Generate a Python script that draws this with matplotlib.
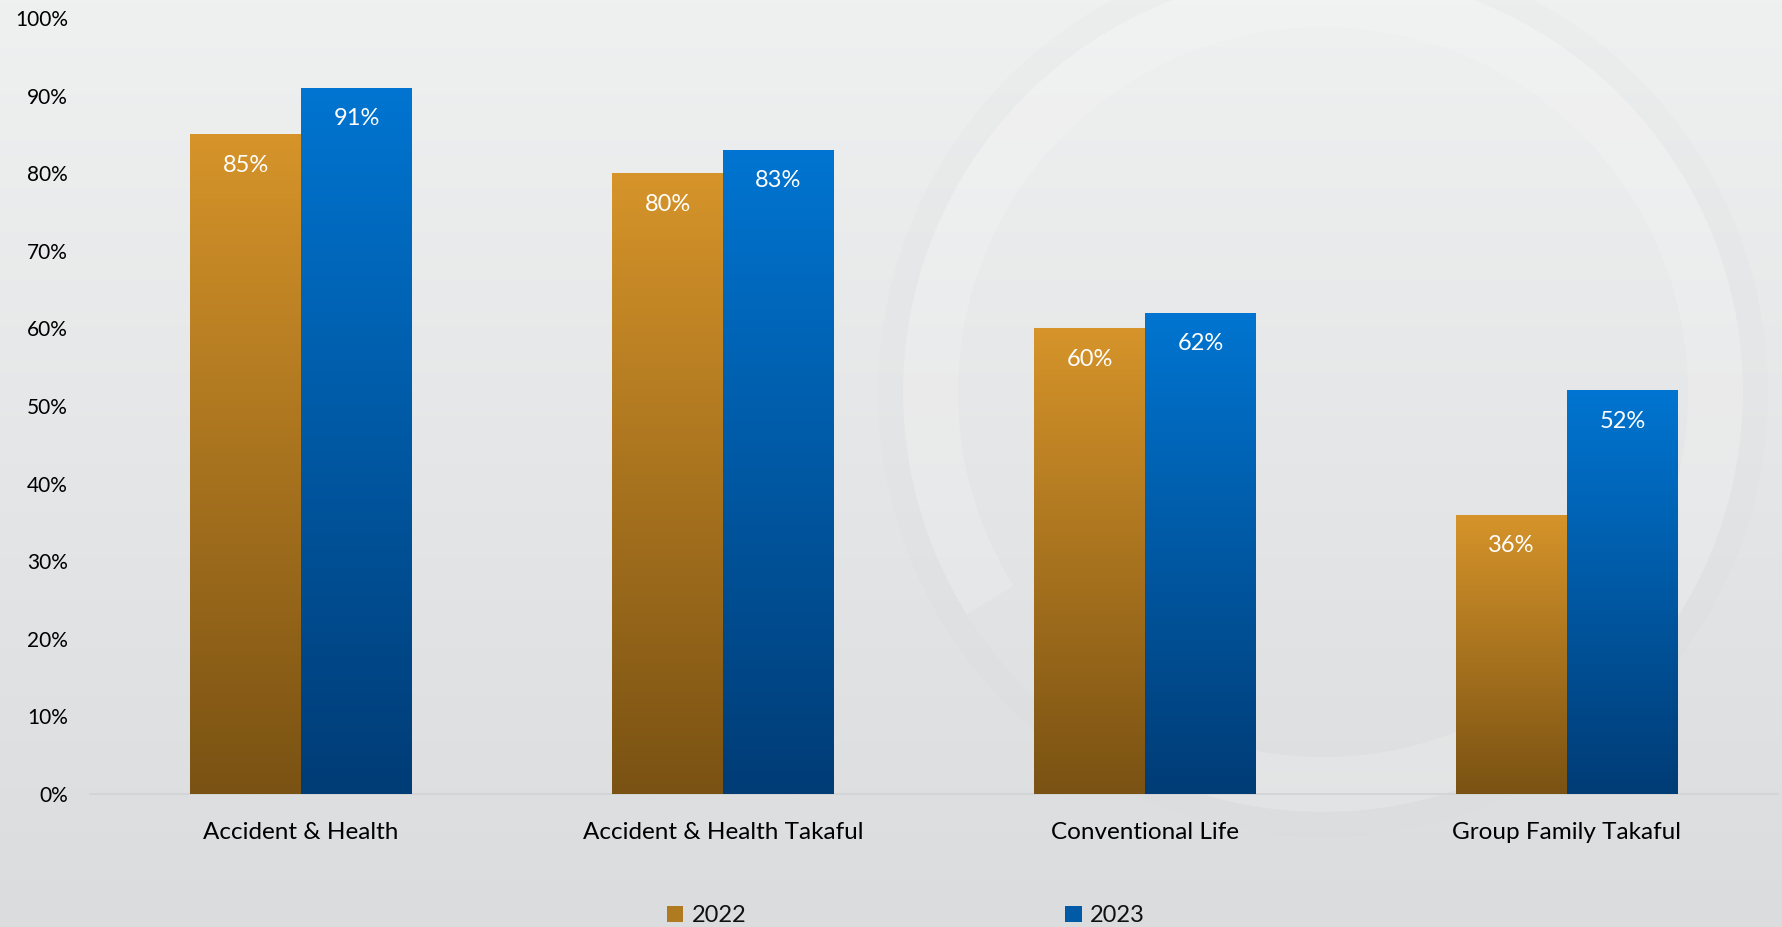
import numpy as np
import matplotlib
matplotlib.use("Agg")
import matplotlib.pyplot as plt
from matplotlib.patches import Wedge, Patch
from matplotlib.colors import LinearSegmentedColormap

categories = ["Accident & Health", "Accident & Health Takaful",
              "Conventional Life", "Group Family Takaful"]
years = ["2022", "2023"]
vals_2022 = [85, 80, 60, 36]
vals_2023 = [91, 83, 62, 52]
yticks = [0, 10, 20, 30, 40, 50, 60, 70, 80, 90, 100]

ORANGE_TOP, ORANGE_BOT = "#d6942a", "#7a5213"
BLUE_TOP, BLUE_BOT = "#0075d1", "#003c76"
BG_TOP, BG_BOT = "#eff0f0", "#dbdcde"

plt.rcParams.update({
    "font.family": ["Lato", "DejaVu Sans"],
    "text.color": "#111111",
})

W, H = 1783, 927
fig = plt.figure(figsize=(W / 100, H / 100), dpi=100)

# background: vertical gradient + faint ring (y axis flipped, so angles mirror)
bg = fig.add_axes([0, 0, 1, 1], zorder=-10)
bg.set_xlim(0, W)
bg.set_ylim(H, 0)
bg.axis("off")
bg_cmap = LinearSegmentedColormap.from_list("bg", [BG_TOP, BG_BOT])
bg.imshow(np.linspace(0, 1, 256).reshape(-1, 1), cmap=bg_cmap,
          extent=[0, W, H, 0], aspect="auto")
bg.add_patch(Wedge((1323, 392), 420, 148, 118, width=55,
                   facecolor="white", edgecolor="none", alpha=0.16))
bg.add_patch(Wedge((1323, 392), 445, 0, 360, width=25,
                   facecolor="#d4d5d7", edgecolor="none", alpha=0.10))

ax = fig.add_axes([90 / W, 1 - 794 / H, (1778 - 90) / W, (794 - 18) / H])
ax.patch.set_alpha(0)

x = np.arange(len(categories))
w = 0.263

def grad_bars(xpos, vals, top, bot):
    cmap = LinearSegmentedColormap.from_list("g", [bot, top])
    bars = ax.bar(xpos, vals, w, color="none", edgecolor="none", zorder=3)
    for b in bars:
        x0, y0 = b.get_x(), b.get_y()
        im = ax.imshow(np.linspace(0, 1, 256).reshape(-1, 1), cmap=cmap,
                       origin="lower", aspect="auto", zorder=3,
                       extent=[x0, x0 + b.get_width(), y0, y0 + b.get_height()])
        im.set_clip_path(b)
    for xi, v in zip(xpos, vals):
        ax.text(xi, v - 4, f"{v}%", ha="center", va="center",
                color="white", fontsize=17, zorder=5)

grad_bars(x - w / 2, vals_2022, ORANGE_TOP, ORANGE_BOT)
grad_bars(x + w / 2, vals_2023, BLUE_TOP, BLUE_BOT)

ax.set_xlim(-0.5, 3.5)
ax.set_ylim(0, 100)
ax.set_yticks(yticks)
ax.set_yticklabels([f"{t}%" for t in yticks], fontsize=15)
ax.set_xticks(x)
ax.set_xticklabels(categories, fontsize=17.5)
ax.tick_params(axis="y", length=0, pad=16)
ax.tick_params(axis="x", length=0, pad=20)
for s in ["top", "right", "left"]:
    ax.spines[s].set_visible(False)
ax.spines["bottom"].set_color("#d2d3d5")
ax.spines["bottom"].set_linewidth(1.2)

handles = [Patch(facecolor="#b07a20"), Patch(facecolor="#005aa6")]
fig.legend(handles, years, loc="center", bbox_to_anchor=(0.508, 0.012),
           ncol=2, frameon=False, fontsize=17, handlelength=0.7,
           handleheight=0.7, handletextpad=0.35, columnspacing=13.5,
           borderpad=0)

fig.savefig("out.png", dpi=100)
